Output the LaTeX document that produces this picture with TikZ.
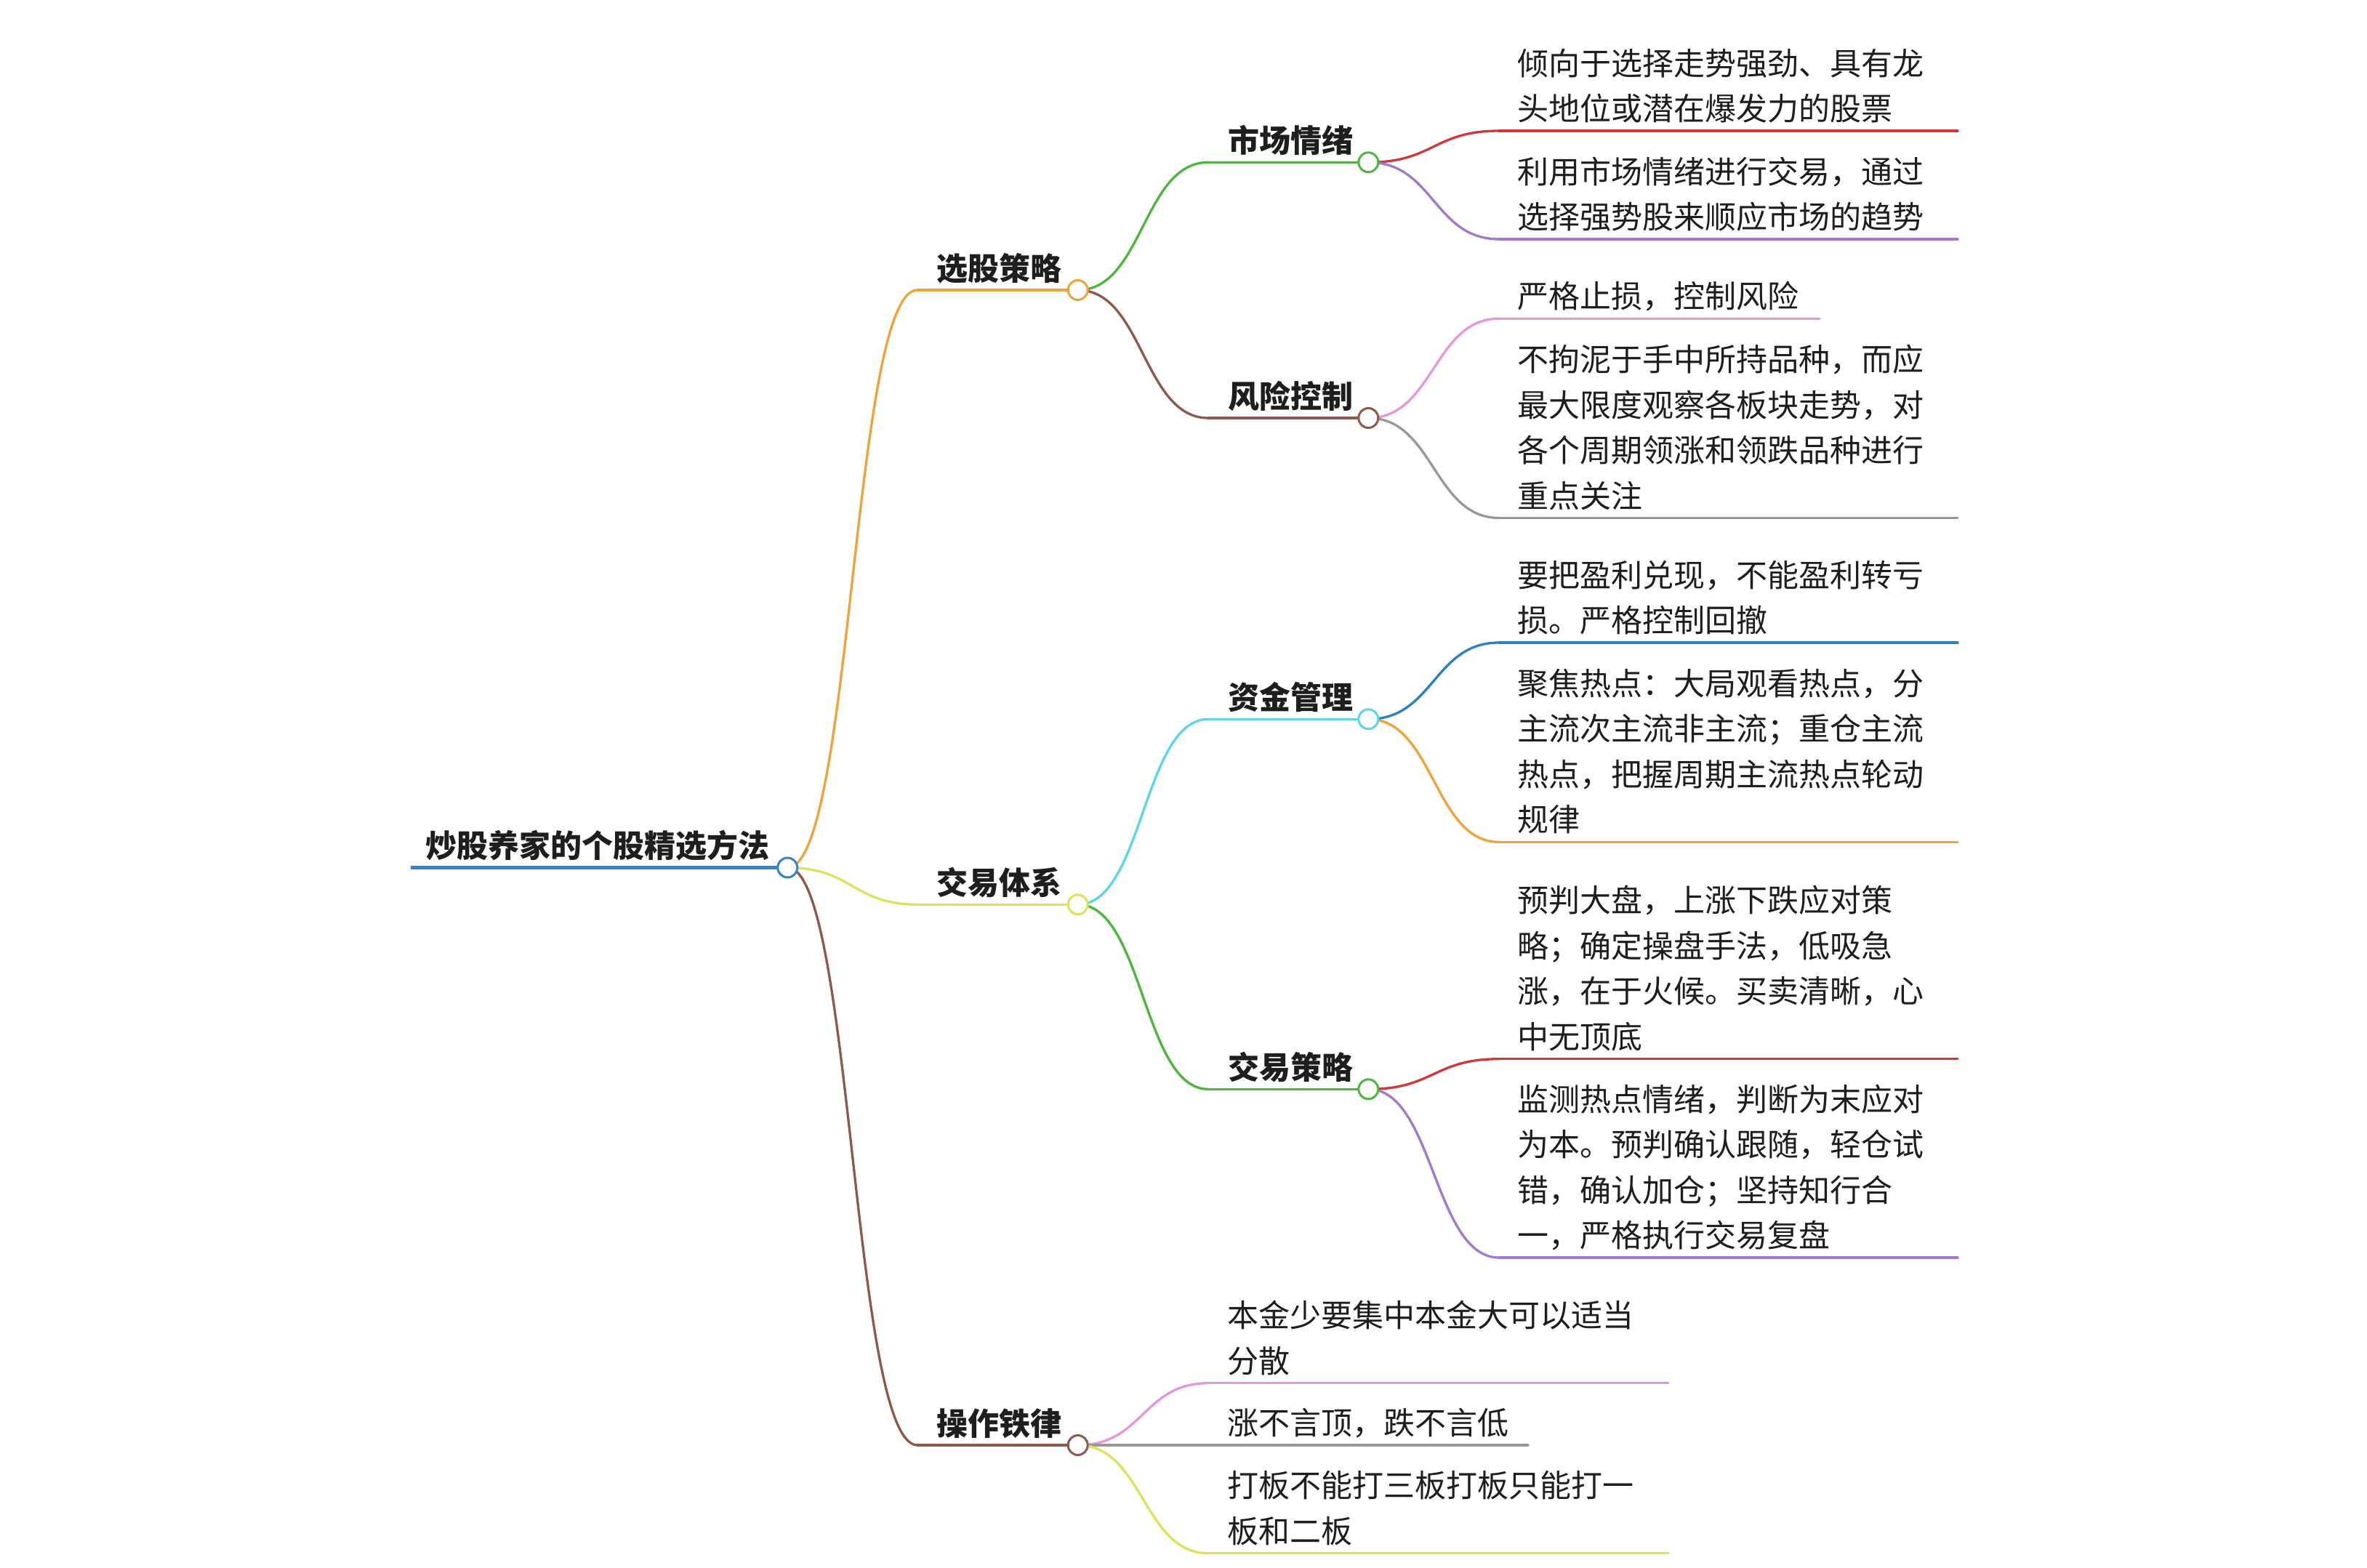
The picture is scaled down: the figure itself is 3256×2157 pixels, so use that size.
\documentclass[tikz,border=0pt]{standalone}
\usepackage{fontspec}
\setmainfont{Noto Sans CJK SC}
\usetikzlibrary{calc}
\definecolor{cBlue}{RGB}{48,134,204}
\definecolor{cOrange}{RGB}{238,164,58}
\definecolor{cGreen}{RGB}{78,182,62}
\definecolor{cRed}{RGB}{208,56,60}
\definecolor{cPurple}{RGB}{160,122,206}
\definecolor{cBrown}{RGB}{142,88,76}
\definecolor{cPink}{RGB}{228,152,220}
\definecolor{cGray}{RGB}{152,152,152}
\definecolor{cOlive}{RGB}{220,226,92}
\definecolor{cCyan}{RGB}{92,214,230}
\definecolor{cLeafBlue}{RGB}{44,128,192}
\definecolor{txt}{RGB}{30,30,30}
\newcommand\linkto[3]{\draw[edge=#3] let \p1=(#1), \p2=(#2) in (\p1) .. controls ({(\x1+\x2)/2},\y1) and ({(\x1+\x2)/2},\y2) .. (\p2);}
\begin{document}
\begin{tikzpicture}[x=1pt,y=-1pt,
  lbl/.style={anchor=base west,inner sep=0pt,font=\fontsize{43}{62.5}\selectfont\bfseries,text=txt},
  leaf/.style={anchor=south west,inner sep=0pt,align=left,text depth=0pt,font=\fontsize{43}{62.5}\selectfont,text=txt},
  dot/.style={circle,draw=#1,fill=white,line width=3pt,minimum size=27pt,inner sep=0pt},
  edge/.style={line width=3.3pt,draw=#1,line cap=round},
]
\path[use as bounding box] (0,0) rectangle (3256,2157);
% circle positions
\coordinate (c0) at (1083.3,1193.5);
\coordinate (r0) at (565,1193.5);
\coordinate (s1) at (1262,399);    \coordinate (c1) at (1482.7,399);
\coordinate (s2) at (1262,1244.3); \coordinate (c2) at (1482.7,1244.3);
\coordinate (s3) at (1262,1988);   \coordinate (c3) at (1482.7,1988);
\coordinate (s11) at (1662,223.3); \coordinate (c11) at (1882.3,223.3);
\coordinate (s12) at (1662,575);   \coordinate (c12) at (1882.3,575);
\coordinate (s21) at (1662,989.3); \coordinate (c21) at (1882.3,989.3);
\coordinate (s22) at (1662,1498.3);\coordinate (c22) at (1882.3,1498.3);
% leaf lines
\coordinate (a1s) at (2062,180);    \coordinate (a1e) at (2693,180);
\coordinate (a2s) at (2062,329);    \coordinate (a2e) at (2693,329);
\coordinate (b1s) at (2062,438.3);  \coordinate (b1e) at (2503,438.3);
\coordinate (b2s) at (2062,712.5);  \coordinate (b2e) at (2693,712.5);
\coordinate (d1s) at (2062,884);    \coordinate (d1e) at (2693,884);
\coordinate (d2s) at (2062,1158.3); \coordinate (d2e) at (2693,1158.3);
\coordinate (f1s) at (2062,1456.7); \coordinate (f1e) at (2693,1456.7);
\coordinate (f2s) at (2062,1730);   \coordinate (f2e) at (2693,1730);
\coordinate (g1s) at (1662,1902.7); \coordinate (g1e) at (2295,1902.7);
\coordinate (g2s) at (1662,1988);   \coordinate (g2e) at (2102,1988);
\coordinate (g3s) at (1662,2136.7); \coordinate (g3e) at (2295,2136.7);

% links
\linkto{c0}{s1}{cOrange}
\linkto{c0}{s2}{cOlive}
\linkto{c0}{s3}{cBrown}
\linkto{c1}{s11}{cGreen}
\linkto{c1}{s12}{cBrown}
\linkto{c2}{s21}{cCyan}
\linkto{c2}{s22}{cGreen}
\linkto{c11}{a1s}{cRed}
\linkto{c11}{a2s}{cPurple}
\linkto{c12}{b1s}{cPink}
\linkto{c12}{b2s}{cGray}
\linkto{c21}{d1s}{cLeafBlue}
\linkto{c21}{d2s}{cOrange}
\linkto{c22}{f1s}{cRed}
\linkto{c22}{f2s}{cPurple}
\linkto{c3}{g1s}{cPink}
\linkto{c3}{g2s}{cGray}
\linkto{c3}{g3s}{cOlive}

% underlines
\draw[edge=cBlue,line width=4.5pt,line cap=butt] (r0) -- (c0);
\draw[edge=cOrange] (s1) -- (c1);
\draw[edge=cOlive] (s2) -- (c2);
\draw[edge=cBrown] (s3) -- (c3);
\draw[edge=cGreen] (s11) -- (c11);
\draw[edge=cBrown] (s12) -- (c12);
\draw[edge=cCyan] (s21) -- (c21);
\draw[edge=cGreen] (s22) -- (c22);
\draw[edge=cRed] (a1s) -- (a1e);
\draw[edge=cPurple] (a2s) -- (a2e);
\draw[edge=cPink] (b1s) -- (b1e);
\draw[edge=cGray] (b2s) -- (b2e);
\draw[edge=cLeafBlue] (d1s) -- (d1e);
\draw[edge=cOrange] (d2s) -- (d2e);
\draw[edge=cRed] (f1s) -- (f1e);
\draw[edge=cPurple] (f2s) -- (f2e);
\draw[edge=cPink] (g1s) -- (g1e);
\draw[edge=cGray] (g2s) -- (g2e);
\draw[edge=cOlive] (g3s) -- (g3e);

% circles
\node[dot=cBlue] (k0) at (c0) {};
\node[dot=cOrange] (k1) at (c1) {};
\node[dot=cOlive] (k2) at (c2) {};
\node[dot=cBrown] (k3) at (c3) {};
\node[dot=cGreen] (k11) at (c11) {};
\node[dot=cBrown] (k12) at (c12) {};
\node[dot=cCyan] (k21) at (c21) {};
\node[dot=cGreen] (k22) at (c22) {};

% labels
\node[lbl] (t0) at (585,1179.5) {炒股养家的个股精选方法};
\node[lbl] (t1) at (1288,385) {选股策略};
\node[lbl] (t2) at (1288,1230.3) {交易体系};
\node[lbl] (t3) at (1288,1974) {操作铁律};
\node[lbl] (t11) at (1689,209.3) {市场情绪};
\node[lbl] (t12) at (1689,561) {风险控制};
\node[lbl] (t21) at (1689,975.3) {资金管理};
\node[lbl] (t22) at (1689,1484.3) {交易策略};

% leaves
\node[leaf] (ta1) at (2087,165.7) {倾向于选择走势强劲、具有龙\\头地位或潜在爆发力的股票};
\node[leaf] (ta2) at (2087,314.7) {利用市场情绪进行交易，通过\\选择强势股来顺应市场的趋势};
\node[leaf] (tb1) at (2087,424) {严格止损，控制风险};
\node[leaf] (tb2) at (2087,698.2) {不拘泥于手中所持品种，而应\\最大限度观察各板块走势，对\\各个周期领涨和领跌品种进行\\重点关注};
\node[leaf] (td1) at (2087,869.7) {要把盈利兑现，不能盈利转亏\\损。严格控制回撤};
\node[leaf] (td2) at (2087,1144) {聚焦热点：大局观看热点，分\\主流次主流非主流；重仓主流\\热点，把握周期主流热点轮动\\规律};
\node[leaf] (tf1) at (2087,1442.4) {预判大盘，上涨下跌应对策\\略；确定操盘手法，低吸急\\涨，在于火候。买卖清晰，心\\中无顶底};
\node[leaf] (tf2) at (2087,1715.7) {监测热点情绪，判断为末应对\\为本。预判确认跟随，轻仓试\\错，确认加仓；坚持知行合\\一，严格执行交易复盘};
\node[leaf] (tg1) at (1688,1888.4) {本金少要集中本金大可以适当\\分散};
\node[leaf] (tg2) at (1688,1973.7) {涨不言顶，跌不言低};
\node[leaf] (tg3) at (1688,2122.4) {打板不能打三板打板只能打一\\板和二板};
\end{tikzpicture}
\end{document}
